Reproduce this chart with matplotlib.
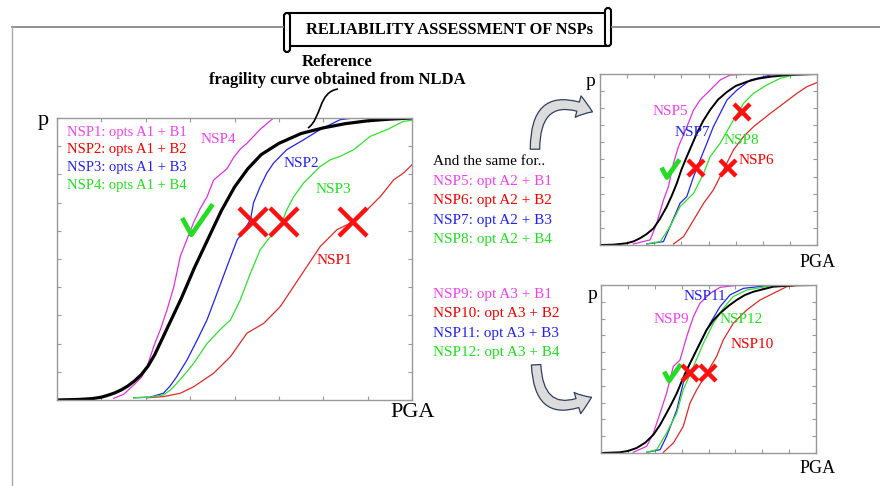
import matplotlib
matplotlib.use("Agg")
import matplotlib.pyplot as plt
from matplotlib.patches import Rectangle, FancyBboxPatch, FancyArrowPatch, PathPatch
from matplotlib.path import Path

plt.rcParams['font.family'] = ['Liberation Serif', 'DejaVu Serif']

# ---- main panel (NSP1..NSP4) ----
ref_x = [0, 0.5, 0.8, 1.0, 1.15, 1.3, 1.45, 1.6, 1.75, 1.9, 2.05, 2.2, 2.35, 2.5, 2.65, 2.8, 2.95, 3.1,
         3.4, 3.7, 4.0, 4.3, 4.6, 5.0, 5.5, 6.0, 6.5, 7.0, 7.5, 8.0]
ref_p = [0, 0.002, 0.005, 0.01, 0.017, 0.025, 0.036, 0.05, 0.068, 0.09, 0.12, 0.16, 0.21, 0.26, 0.31,
         0.36, 0.415, 0.47, 0.57, 0.67, 0.755, 0.82, 0.87, 0.91, 0.945, 0.965, 0.98, 0.99, 0.996, 1.0]

nsp1_x = [1.28, 1.5, 1.73, 1.9, 2.03, 2.18, 2.33, 2.48, 2.63, 2.78, 2.93, 3.08, 3.23, 3.38, 3.53, 3.68, 3.83, 3.98, 4.13, 4.28, 4.43, 4.58, 4.73, 4.88, 5.93]
nsp1_p = [0.006, 0.02, 0.053, 0.08, 0.118, 0.19, 0.25, 0.32, 0.40, 0.51, 0.57, 0.63, 0.68, 0.72, 0.78, 0.80, 0.82, 0.86, 0.89, 0.91, 0.935, 0.96, 0.98, 1.0, 1.0]
nsp2_x = [2.03, 2.40, 2.78, 3.08, 3.53, 3.91, 4.28, 4.66, 5.03, 5.33, 5.63, 5.93, 6.31, 6.61, 6.99, 7.29, 7.59, 7.81, 8.0]
nsp2_p = [0.008, 0.012, 0.024, 0.047, 0.095, 0.154, 0.237, 0.272, 0.331, 0.402, 0.473, 0.544, 0.604, 0.627, 0.675, 0.722, 0.781, 0.805, 0.834]
nsp3_x = [1.73, 2.1, 2.40, 2.55, 2.70, 2.93, 3.16, 3.38, 3.61, 3.83, 4.06, 4.21, 4.36, 4.43, 4.58, 4.73, 4.88, 5.03, 5.18, 5.56, 5.93, 6.38, 6.69, 7.5]
nsp3_p = [0.008, 0.01, 0.024, 0.05, 0.083, 0.142, 0.213, 0.284, 0.38, 0.473, 0.568, 0.60, 0.64, 0.70, 0.757, 0.805, 0.84, 0.864, 0.888, 0.923, 0.959, 0.994, 1.0, 1.0]
nsp4_x = [1.73, 2.1, 2.40, 2.55, 2.70, 2.9, 3.08, 3.38, 3.68, 3.91, 4.13, 4.36, 4.58, 4.81, 5.03, 5.18, 5.33, 5.56, 5.93, 6.16, 6.38, 6.69, 7.06, 7.44, 7.81, 8.0]
nsp4_p = [0.008, 0.01, 0.018, 0.035, 0.059, 0.095, 0.13, 0.20, 0.25, 0.284, 0.355, 0.45, 0.533, 0.58, 0.615, 0.675, 0.72, 0.77, 0.828, 0.852, 0.864, 0.888, 0.935, 0.959, 0.988, 0.992]
main_check = ([3.15], [0.642])
main_cross = ([4.42, 5.12, 6.67], [0.631, 0.631, 0.631])

# ---- top right panel (NSP5..NSP8) ----
ref2_x = [0, 0.5, 0.98, 1.25, 1.48, 1.72, 1.97, 2.2, 2.46, 2.65, 2.83, 3.0, 3.2, 3.4, 3.57, 3.8, 4.06, 4.35,
          4.68, 5.0, 5.42, 5.8, 6.28, 7.0, 8.0]
ref2_p = [0, 0.002, 0.01, 0.022, 0.04, 0.064, 0.097, 0.15, 0.224, 0.29, 0.36, 0.44, 0.517, 0.59, 0.653,
          0.725, 0.79, 0.85, 0.895, 0.93, 0.955, 0.972, 0.984, 0.995, 1.0]
nsp5_x = [1.23, 1.85, 2.09, 2.34, 2.52, 2.71, 2.89, 3.2, 3.45, 3.69, 4.06, 4.43, 4.8, 5.66]
nsp5_p = [0.006, 0.03, 0.127, 0.263, 0.34, 0.478, 0.575, 0.69, 0.79, 0.848, 0.906, 0.965, 0.994, 1.0]
nsp6_x = [2.71, 3.08, 3.45, 3.82, 4.18, 4.55, 4.92, 5.29, 5.66, 6.28, 6.77, 7.26, 7.63, 8.0]
nsp6_p = [0.006, 0.049, 0.146, 0.244, 0.322, 0.439, 0.556, 0.634, 0.692, 0.77, 0.828, 0.887, 0.926, 0.95]
nsp7_x = [1.72, 2.34, 2.58, 2.95, 3.2, 3.45, 3.69, 3.94, 4.18, 4.43, 4.68, 5.05, 5.54, 6.28, 8.0]
nsp7_p = [0.006, 0.02, 0.107, 0.244, 0.283, 0.40, 0.497, 0.595, 0.692, 0.77, 0.848, 0.906, 0.965, 0.994, 1.0]
nsp8_x = [1.72, 2.22, 2.58, 2.95, 3.45, 3.82, 4.06, 4.43, 4.92, 5.29, 5.66, 6.15, 6.65, 7.14, 8.0]
nsp8_p = [0.006, 0.02, 0.107, 0.224, 0.302, 0.419, 0.517, 0.595, 0.731, 0.828, 0.887, 0.936, 0.975, 0.994, 1.0]
tr_check = ([2.58], [0.45])
tr_cross = ([5.23, 3.54, 4.72], [0.778, 0.45, 0.45])

# ---- bottom right panel (NSP9..NSP12) ----
ref3_x = [0, 0.7, 1.0, 1.33, 1.65, 1.95, 2.2, 2.44, 2.63, 2.82, 3.0, 3.19, 3.38, 3.56, 3.75, 3.93, 4.18,
          4.43, 4.75, 5.05, 5.35, 5.67, 6.41, 7.2, 8.0]
ref3_p = [0, 0.004, 0.012, 0.03, 0.062, 0.109, 0.168, 0.238, 0.295, 0.356, 0.425, 0.495, 0.555, 0.614,
          0.675, 0.733, 0.79, 0.832, 0.876, 0.911, 0.94, 0.96, 0.99, 0.998, 1.0]
nsp9_x = [1.2, 1.7, 1.95, 2.2, 2.44, 2.69, 2.94, 3.19, 3.44, 3.68, 4.06, 4.43, 5.05, 8.0]
nsp9_p = [0.004, 0.04, 0.119, 0.238, 0.356, 0.515, 0.554, 0.693, 0.812, 0.891, 0.95, 0.986, 0.998, 1.0]
nsp10_x = [2.32, 2.69, 3.06, 3.31, 3.56, 3.93, 4.3, 4.55, 4.92, 5.42, 5.92, 6.41, 6.91, 7.28, 8.0]
nsp10_p = [0.004, 0.059, 0.158, 0.297, 0.376, 0.475, 0.574, 0.673, 0.772, 0.851, 0.911, 0.95, 0.99, 0.998, 1.0]
nsp11_x = [1.7, 2.2, 2.44, 2.82, 3.06, 3.31, 3.68, 4.06, 4.43, 4.8, 5.3, 6.29, 8.0]
nsp11_p = [0.004, 0.02, 0.099, 0.257, 0.416, 0.535, 0.653, 0.772, 0.871, 0.941, 0.98, 0.998, 1.0]
nsp12_x = [1.7, 2.07, 2.44, 2.82, 3.06, 3.44, 3.81, 4.18, 4.55, 4.92, 5.42, 6.29, 8.0]
nsp12_p = [0.004, 0.02, 0.119, 0.238, 0.376, 0.515, 0.653, 0.772, 0.861, 0.931, 0.97, 0.994, 1.0]
br_check = ([2.64], [0.48])
br_cross = ([3.31, 3.98], [0.476, 0.476])

legend1 = ["NSP1: opts A1 + B1", "NSP2: opts A1 + B2", "NSP3: opts A1 + B3", "NSP4: opts A1 + B4"]
legend2 = ["NSP5: opt A2 + B1", "NSP6: opt A2 + B2", "NSP7: opt A2 + B3", "NSP8: opt A2 + B4"]
legend3 = ["NSP9: opt A3 + B1", "NSP10: opt A3 + B2", "NSP11: opt A3 + B3", "NSP12: opt A3 + B4"]

MAG, RED, BLUE, GREEN = "#dd33dd", "#dd2a2a", "#2222ee", "#33dd33"
TXT = ["#ee44ee", "#f00000", "#2222ee", "#22dd22"]
CHECK = [(-0.5, 0.05), (-0.2, -0.5), (0.5, 0.5)]

fig = plt.figure(figsize=(8.8, 4.86), dpi=100)


def panel(rect, ref, curves, lw_ref):
    ax = fig.add_axes(rect)
    for (x, p), c in zip(curves, [MAG, RED, BLUE, GREEN]):
        ax.plot(x, p, color=c, lw=0.9)
    ax.plot(ref[0], ref[1], color="black", lw=lw_ref)
    ax.set_xlim(0, 8)
    ax.set_ylim(0, 1)
    ax.set_xticks(range(9))
    ax.set_yticks([i / 10 for i in range(11)])
    ax.tick_params(direction="in", length=3, color="#999999", top=True, right=True,
                   labelbottom=False, labelleft=False)
    for s in ax.spines.values():
        s.set_color("#999999")
        s.set_linewidth(1.0)
    return ax


def marks(ax, check, cross, size, cross_size):
    ax.plot(check[0], check[1], ls="none", marker=CHECK, ms=size, mfc="none",
            mec="#22dd22", mew=3.4, clip_on=False)
    ax.plot(cross[0], cross[1], ls="none", marker="x", ms=cross_size,
            mec="#ff1010", mew=3.2, clip_on=False)


ax1 = panel([57 / 880, 86 / 486, 355 / 880, 282 / 486], (ref_x, ref_p),
            [(nsp1_x, nsp1_p), (nsp2_x, nsp2_p), (nsp3_x, nsp3_p), (nsp4_x, nsp4_p)], 2.3)
marks(ax1, main_check, main_cross, 22, 20)
ax1.text(3.63, 0.922, "NSP4", color=TXT[0], fontsize=11, ha="center", va="center")
ax1.text(5.50, 0.84, "NSP2", color=TXT[2], fontsize=11, ha="center", va="center")
ax1.text(6.22, 0.745, "NSP3", color=TXT[3], fontsize=11, ha="center", va="center")
ax1.text(6.24, 0.496, "NSP1", color=TXT[1], fontsize=11, ha="center", va="center")

ax2 = panel([600 / 880, 241 / 486, 217 / 880, 171 / 486], (ref2_x, ref2_p),
            [(nsp5_x, nsp5_p), (nsp6_x, nsp6_p), (nsp7_x, nsp7_p), (nsp8_x, nsp8_p)], 1.4)
marks(ax2, tr_check, tr_cross, 13, 12)
ax2.text(2.58, 0.778, "NSP5", color=TXT[0], fontsize=11, ha="center", va="center")
ax2.text(3.39, 0.655, "NSP7", color=TXT[2], fontsize=11, ha="center", va="center")
ax2.text(5.2, 0.614, "NSP8", color=TXT[3], fontsize=11, ha="center", va="center")
ax2.text(5.75, 0.497, "NSP6", color=TXT[1], fontsize=11, ha="center", va="center")

ax3 = panel([601 / 880, 33 / 486, 215 / 880, 168 / 486], (ref3_x, ref3_p),
            [(nsp9_x, nsp9_p), (nsp10_x, nsp10_p), (nsp11_x, nsp11_p), (nsp12_x, nsp12_p)], 1.4)
marks(ax3, br_check, br_cross, 12, 11)
ax3.text(3.87, 0.929, "NSP11", color=TXT[2], fontsize=11, ha="center", va="center")
ax3.text(2.6, 0.792, "NSP9", color=TXT[0], fontsize=11, ha="center", va="center")
ax3.text(5.21, 0.792, "NSP12", color=TXT[3], fontsize=11, ha="center", va="center")
ax3.text(5.62, 0.643, "NSP10", color=TXT[1], fontsize=11, ha="center", va="center")

# overlay in pixel coordinates for the frame, banner, arrows and free text
ov = fig.add_axes([0, 0, 1, 1], zorder=5)
ov.set_xlim(0, 880)
ov.set_ylim(486, 0)
ov.axis("off")

ov.plot([12, 283], [27, 27], color="#888888", lw=1.3)
ov.plot([612, 880], [27, 27], color="#888888", lw=1.3)
ov.plot([12, 12], [27, 486], color="#aaaaaa", lw=1.0)

ov.add_patch(Rectangle((288, 13), 318, 33, fc="white", ec="black", lw=1.5))
ov.add_patch(FancyBboxPatch((284, 13), 6, 39, boxstyle="round,pad=0,rounding_size=3",
                            fc="white", ec="black", lw=1.5))
ov.add_patch(FancyBboxPatch((605, 8), 6, 38, boxstyle="round,pad=0,rounding_size=3",
                            fc="white", ec="black", lw=1.5))
ov.text(450, 30, "RELIABILITY ASSESSMENT OF NSPs", fontsize=11.8, fontweight="bold",
        ha="center", va="center")

ov.text(337, 62, "Reference", fontsize=12, fontweight="bold", ha="center", va="center")
ov.text(337, 80, "fragility curve obtained from NLDA", fontsize=12, fontweight="bold",
        ha="center", va="center")
verts = [(338, 89), (318, 92), (322, 118), (308, 128)]
ov.add_patch(PathPatch(Path(verts, [Path.MOVETO, Path.CURVE4, Path.CURVE4, Path.CURVE4]),
                       fc="none", ec="black", lw=1.2))

ov.text(43, 120, "p", fontsize=16, ha="center", va="center")
ov.text(413, 412, "PGA", fontsize=16, ha="center", va="center")
ov.text(590, 82, "p", fontsize=14, ha="center", va="center")
ov.text(818, 262, "PGA", fontsize=13, ha="center", va="center")
ov.text(592, 294, "p", fontsize=14, ha="center", va="center")
ov.text(818, 468, "PGA", fontsize=13, ha="center", va="center")

for i, t in enumerate(legend1):
    ov.text(67, 132 + i * 17.7, t, color=TXT[i], fontsize=10.5, ha="left", va="center")
ov.text(433, 161, "And the same for..", fontsize=11, ha="left", va="center")
for i, t in enumerate(legend2):
    ov.text(433, 181 + i * 19.5, t, color=TXT[i], fontsize=11, ha="left", va="center")
for i, t in enumerate(legend3):
    ov.text(433, 294 + i * 19.5, t, color=TXT[i], fontsize=11, ha="left", va="center")

style = "simple,head_width=0.8,head_length=0.55,tail_width=0.34"
ov.add_patch(FancyArrowPatch((535, 152), (595, 113), arrowstyle=style, mutation_scale=20,
                             connectionstyle="arc3,rad=-0.8", fc="#dcdcdc", ec="#2f3f5f", lw=0.9))
ov.add_patch(FancyArrowPatch((536, 362), (594, 396), arrowstyle=style, mutation_scale=20,
                             connectionstyle="arc3,rad=0.8", fc="#dcdcdc", ec="#2f3f5f", lw=0.9))

fig.savefig("out.png", dpi=100)
